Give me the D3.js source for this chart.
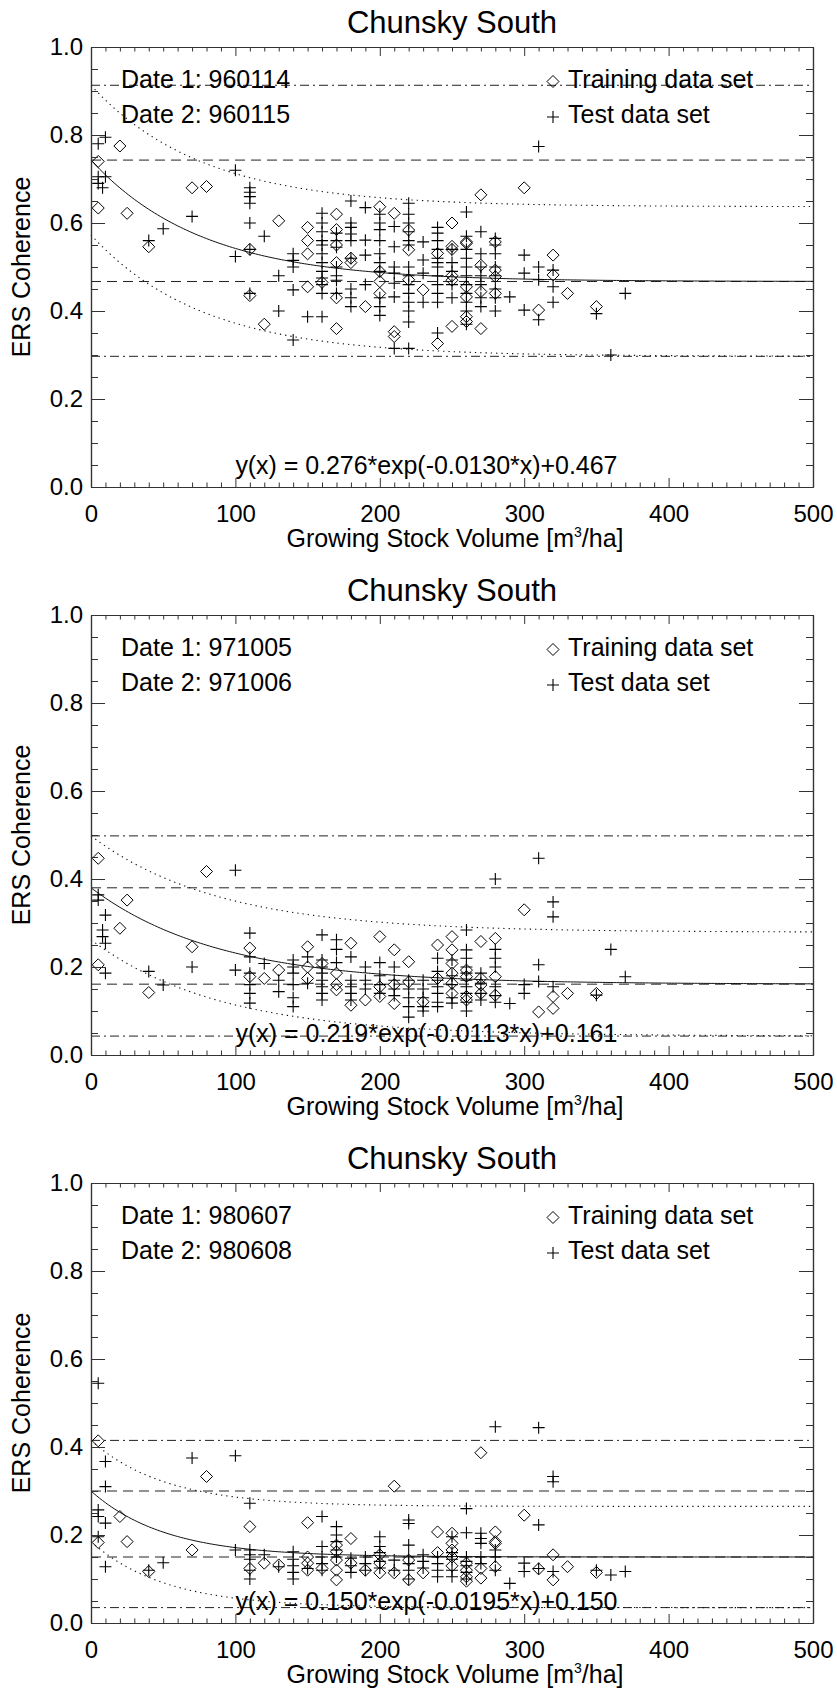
<!DOCTYPE html>
<html>
<head>
<meta charset="utf-8">
<script src="https://cdn.jsdelivr.net/npm/d3@7"></script>
<style>
  html, body { margin: 0; padding: 0; background: #fff; }
  svg { display: block; }
  text { font-family: "Liberation Sans", Arial, Helvetica, sans-serif; fill: #000; }
</style>
</head>
<body>
<svg id="chart" width="837" height="1688"></svg>
<script>
// ---- Chunsky South: ERS coherence vs growing stock volume, three date pairs ----

const siteName = "Chunsky South";
const date1 = ["960114", "971005", "980607"];
const date2 = ["960115", "971006", "980608"];

// Fitted model y(x) = a*exp(-b*x)+c and band half-width per date pair
const fitA = [0.276, 0.219, 0.150];
const fitB = [0.0130, 0.0113, 0.0195];
const fitC = [0.467, 0.161, 0.150];
const bandWidth = [0.170, 0.118, 0.115];

const xTicks = [0, 100, 200, 300, 400, 500];
const yTicks = [0.0, 0.2, 0.4, 0.6, 0.8, 1.0];

// Pair 1 (960114 / 960115)
const train1 = [[5,0.74],[20,0.775],[5,0.634],[25,0.622],[40,0.546],[70,0.68],[80,0.683],[110,0.54],[110,0.435],[130,0.605],[120,0.37],[150,0.59],[150,0.56],[150,0.53],[150,0.455],[160,0.465],[170,0.62],[170,0.585],[170,0.55],[170,0.51],[170,0.43],[170,0.36],[180,0.52],[180,0.51],[190,0.41],[200,0.637],[210,0.622],[220,0.584],[220,0.539],[200,0.49],[200,0.467],[200,0.44],[210,0.353],[210,0.342],[230,0.448],[220,0.471],[240,0.531],[240,0.326],[250,0.6],[250,0.547],[250,0.54],[250,0.48],[250,0.47],[250,0.365],[260,0.557],[260,0.554],[260,0.455],[260,0.432],[260,0.387],[260,0.376],[270,0.664],[270,0.504],[270,0.444],[270,0.36],[280,0.557],[280,0.493],[280,0.478],[280,0.44],[300,0.68],[310,0.402],[320,0.527],[320,0.482],[330,0.44],[350,0.41]];
const test1 = [[5,0.78],[10,0.795],[5,0.705],[5,0.69],[8,0.68],[10,0.705],[40,0.56],[50,0.587],[70,0.615],[100,0.72],[110,0.68],[110,0.67],[110,0.66],[110,0.645],[110,0.6],[120,0.57],[100,0.524],[110,0.54],[110,0.44],[130,0.48],[130,0.4],[140,0.53],[140,0.515],[140,0.5],[140,0.448],[140,0.334],[150,0.387],[160,0.387],
  [160,0.622],[160,0.6],[160,0.58],[160,0.56],[160,0.55],[160,0.53],[160,0.51],[160,0.49],[160,0.475],[160,0.46],[160,0.44],
  [170,0.577],[170,0.56],[170,0.545],[170,0.5],[170,0.48],[170,0.47],[170,0.44],
  [180,0.65],[180,0.6],[180,0.59],[180,0.575],[180,0.56],[180,0.52],[180,0.45],[180,0.43],[180,0.41],
  [190,0.635],[190,0.561],[190,0.527],[190,0.46],
  [200,0.62],[200,0.6],[200,0.585],[200,0.56],[200,0.53],[200,0.51],[200,0.49],[200,0.43],[200,0.41],[200,0.39],
  [210,0.592],[210,0.546],[210,0.5],[210,0.486],[210,0.463],[210,0.432],[210,0.315],
  [220,0.645],[220,0.62],[220,0.6],[220,0.58],[220,0.56],[220,0.55],[220,0.5],[220,0.48],[220,0.46],[220,0.44],[220,0.42],[220,0.4],[220,0.375],[220,0.315],
  [230,0.557],[230,0.516],[230,0.486],[230,0.42],
  [240,0.59],[240,0.577],[240,0.56],[240,0.54],[240,0.52],[240,0.51],[240,0.5],[240,0.48],[240,0.46],[240,0.44],[240,0.42],[240,0.35],
  [250,0.54],[250,0.51],[250,0.49],[250,0.46],[250,0.43],
  [260,0.625],[260,0.57],[260,0.54],[260,0.52],[260,0.5],[260,0.48],[260,0.46],[260,0.44],[260,0.42],[260,0.4],[260,0.37],
  [270,0.58],[270,0.53],[270,0.5],[270,0.48],[270,0.46],[270,0.43],[270,0.41],
  [280,0.565],[280,0.55],[280,0.53],[280,0.5],[280,0.48],[280,0.45],[280,0.43],[280,0.4],
  [290,0.432],[300,0.527],[300,0.486],[300,0.402],[310,0.5],[310,0.471],[310,0.38],[320,0.493],[320,0.455],[320,0.42],[310,0.774],[350,0.394],[370,0.44],[360,0.3]];

// Pair 2 (971005 / 971006)
const train2 = [[5,0.447],[80,0.417],[25,0.352],[20,0.288],[70,0.246],[5,0.205],[40,0.142],[110,0.243],[110,0.178],[120,0.174],[130,0.193],[150,0.246],[150,0.2],[150,0.174],[160,0.208],[170,0.186],[170,0.16],[170,0.148],[180,0.254],[180,0.113],[200,0.269],[210,0.239],[190,0.125],[200,0.155],[200,0.133],[210,0.16],[210,0.117],[220,0.212],[220,0.166],[230,0.121],[240,0.25],[240,0.174],[250,0.269],[250,0.239],[250,0.208],[250,0.186],[250,0.163],[250,0.14],[260,0.193],[260,0.178],[260,0.133],[260,0.125],[270,0.258],[270,0.174],[270,0.159],[270,0.14],[280,0.265],[280,0.178],[280,0.136],[300,0.33],[310,0.098],[320,0.133],[320,0.106],[330,0.14],[350,0.14]];
const test2 = [[5,0.364],[5,0.352],[10,0.318],[8,0.284],[8,0.269],[10,0.254],[10,0.186],[100,0.42],[40,0.19],[50,0.159],[70,0.2],[100,0.193],[110,0.277],[110,0.223],[110,0.186],[110,0.16],[110,0.14],[110,0.118],[120,0.208],[130,0.17],[130,0.144],
  [140,0.216],[140,0.2],[140,0.186],[140,0.16],[140,0.13],[140,0.11],
  [150,0.223],[150,0.163],
  [160,0.273],[160,0.216],[160,0.2],[160,0.186],[160,0.17],[160,0.155],[160,0.14],[160,0.125],
  [170,0.262],[170,0.24],[170,0.21],
  [180,0.223],[180,0.17],[180,0.155],[180,0.14],[180,0.125],
  [310,0.447],[280,0.4],[320,0.348],[320,0.314],[360,0.24],[370,0.178],
  [260,0.284],[260,0.239],[260,0.22],[260,0.2],[260,0.186],[260,0.17],[260,0.155],[260,0.14],[260,0.12],[260,0.1],
  [240,0.22],[240,0.19],[240,0.17],[240,0.155],[240,0.14],[240,0.12],[240,0.11],
  [250,0.216],[250,0.18],[250,0.16],[250,0.13],[250,0.118],
  [280,0.24],[280,0.22],[280,0.2],[280,0.155],[280,0.135],[280,0.12],
  [270,0.186],[270,0.163],[270,0.14],[270,0.125],
  [290,0.117],[300,0.16],[300,0.14],[310,0.205],[310,0.167],[320,0.155],[350,0.136],
  [230,0.17],[230,0.15],[230,0.13],[230,0.11],[230,0.1],
  [220,0.17],[220,0.15],[220,0.13],[220,0.11],[220,0.086],
  [210,0.2],[210,0.17],[210,0.15],[210,0.135],
  [200,0.21],[200,0.18],[200,0.16],[200,0.14],
  [190,0.2],[190,0.17],[190,0.15]];

// Pair 3 (980607 / 980608)
const train3 = [[5,0.414],[80,0.333],[20,0.242],[25,0.185],[5,0.183],[70,0.166],[40,0.117],[110,0.219],[110,0.124],[120,0.136],[130,0.132],[150,0.228],[150,0.15],[150,0.136],[150,0.12],[160,0.124],[170,0.177],[170,0.162],[170,0.143],[170,0.12],[170,0.098],[180,0.192],[180,0.136],[210,0.311],[270,0.387],[300,0.245],[240,0.207],[250,0.204],[280,0.207],[280,0.185],[320,0.155],[330,0.128],[350,0.115],[310,0.123],[320,0.098],[190,0.12],[200,0.155],[200,0.136],[200,0.114],[210,0.114],[220,0.143],[220,0.098],[230,0.114],[240,0.16],[250,0.181],[250,0.166],[250,0.15],[250,0.13],[260,0.136],[260,0.12],[260,0.105],[260,0.095],[270,0.124],[270,0.102],[280,0.181],[280,0.128]];
const test3 = [[5,0.545],[10,0.367],[10,0.31],[5,0.257],[5,0.242],[10,0.227],[5,0.196],[10,0.128],[70,0.375],[100,0.38],[40,0.12],[50,0.137],[100,0.166],[110,0.272],[110,0.166],[110,0.155],[110,0.145],[110,0.12],[110,0.1],[120,0.155],[130,0.128],
  [140,0.162],[140,0.145],[140,0.13],[140,0.115],[140,0.1],
  [150,0.124],[160,0.242],[160,0.174],[160,0.15],[160,0.135],[160,0.12],
  [170,0.219],[170,0.2],[170,0.185],[170,0.166],[170,0.15],
  [180,0.147],[180,0.13],[180,0.115],
  [280,0.446],[310,0.444],[320,0.333],[320,0.321],[260,0.26],[220,0.234],[220,0.226],[200,0.196],[200,0.174],[220,0.177],[260,0.205],[270,0.204],[270,0.192],[270,0.181],[310,0.223],
  [190,0.15],[190,0.135],[190,0.12],
  [200,0.16],[200,0.14],[200,0.125],
  [210,0.143],[210,0.12],
  [220,0.15],[220,0.135],[220,0.12],[220,0.1],
  [230,0.155],[230,0.14],[230,0.125],
  [240,0.15],[240,0.135],[240,0.12],[240,0.105],
  [250,0.196],[250,0.16],[250,0.145],[250,0.12],[250,0.105],
  [260,0.15],[260,0.14],[260,0.13],[260,0.115],[260,0.1],
  [270,0.15],[270,0.135],
  [280,0.166],[280,0.15],[280,0.12],
  [290,0.09],[300,0.136],[300,0.117],[310,0.124],[320,0.117],[350,0.12],[360,0.109],[370,0.117]];

const trainSets = [train1, train2, train3];
const testSets = [test1, test2, test3];

// ---- layout ----
const svg = d3.select("#chart");
svg.append("rect").attr("width", 837).attr("height", 1688).attr("fill", "#fff");

const plotLeft = 91, plotRight = 813, plotH = 440;
const panelTop0 = 47, panelStep = 568;
const ink = "#000";
const diamond = "M0,-6L6,0L0,6L-6,0Z";
const plus = "M-6,0H6M0,-6V6";

function range(a, b, step) {
  const out = [];
  for (let v = a; v <= b + 1e-9; v += step) out.push(+v.toFixed(4));
  return out;
}
const xMinor = range(0, 500, 10).filter(v => !xTicks.includes(v));
const yMinor = range(0, 1, 0.05).filter(v => !yTicks.some(t => Math.abs(t - v) < 1e-6));

for (let i = 0; i < 3; i++) {
  const top = panelTop0 + i * panelStep;
  const bottom = top + plotH;
  const x = d3.scaleLinear().domain([0, 500]).range([plotLeft, plotRight]);
  const y = d3.scaleLinear().domain([0, 1]).range([bottom, top]);
  const g = svg.append("g");

  const a = fitA[i], b = fitB[i], c = fitC[i], d = bandWidth[i];
  const fit = v => a * Math.exp(-b * v) + c;
  const xs = d3.range(0, 500.01, 2);

  // horizontal reference levels
  const levels = [
    { v: c + a + d, dash: "9,4,2,4" },
    { v: c + a, dash: "10,6" },
    { v: c, dash: "10,6" },
    { v: c - d, dash: "9,4,2,4" }
  ];
  g.selectAll(".lvl").data(levels).join("line")
    .attr("x1", x(0)).attr("x2", x(500))
    .attr("y1", l => y(l.v)).attr("y2", l => y(l.v))
    .attr("stroke", "#222").attr("stroke-width", 1)
    .attr("stroke-dasharray", l => l.dash);

  const line = d3.line().x(v => x(v[0])).y(v => y(v[1]));
  // confidence band curves
  [d, -d].forEach(off => {
    g.append("path")
      .attr("d", line(xs.map(v => [v, fit(v) + off])))
      .attr("fill", "none").attr("stroke", "#111").attr("stroke-width", 1.1)
      .attr("stroke-dasharray", "1.3,4");
  });
  // fitted curve
  g.append("path")
    .attr("d", line(xs.map(v => [v, fit(v)])))
    .attr("fill", "none").attr("stroke", "#111").attr("stroke-width", 1);

  // data points
  g.selectAll(".tr").data(trainSets[i]).join("path")
    .attr("d", diamond)
    .attr("transform", p => `translate(${x(p[0])},${y(p[1])})`)
    .attr("fill", "none").attr("stroke", ink).attr("stroke-width", 1);
  g.selectAll(".te").data(testSets[i]).join("path")
    .attr("d", plus)
    .attr("transform", p => `translate(${x(p[0])},${y(p[1])})`)
    .attr("fill", "none").attr("stroke", ink).attr("stroke-width", 1.1);

  // axes: ticks inward on all four sides
  const styleAxis = sel => {
    sel.selectAll("path.domain").attr("stroke", "#333").attr("stroke-width", 1.2);
    sel.selectAll(".tick line").attr("stroke", "#333").attr("stroke-width", 1);
    sel.selectAll(".tick text").attr("font-size", 24)
      .attr("font-family", "Liberation Sans, Arial, sans-serif").attr("fill", "#000");
  };
  g.append("g").attr("transform", `translate(0,${bottom})`)
    .call(d3.axisBottom(x).tickValues(xTicks).tickSize(-9).tickSizeOuter(0).tickPadding(18).tickFormat(d3.format("d")))
    .call(styleAxis);
  g.append("g").attr("transform", `translate(0,${bottom})`)
    .call(d3.axisBottom(x).tickValues(xMinor).tickSize(-4.5).tickSizeOuter(0).tickFormat(""))
    .call(styleAxis);
  g.append("g").attr("transform", `translate(0,${top})`)
    .call(d3.axisTop(x).tickValues(xTicks).tickSize(-9).tickSizeOuter(0).tickFormat(""))
    .call(styleAxis);
  g.append("g").attr("transform", `translate(0,${top})`)
    .call(d3.axisTop(x).tickValues(xMinor).tickSize(-4.5).tickSizeOuter(0).tickFormat(""))
    .call(styleAxis);
  g.append("g").attr("transform", `translate(${plotLeft},0)`)
    .call(d3.axisLeft(y).tickValues(yTicks).tickSize(-14).tickSizeOuter(0).tickPadding(8).tickFormat(d3.format(".1f")))
    .call(styleAxis);
  g.append("g").attr("transform", `translate(${plotLeft},0)`)
    .call(d3.axisLeft(y).tickValues(yMinor).tickSize(-7).tickSizeOuter(0).tickFormat(""))
    .call(styleAxis);
  g.append("g").attr("transform", `translate(${plotRight},0)`)
    .call(d3.axisRight(y).tickValues(yTicks).tickSize(-14).tickSizeOuter(0).tickFormat(""))
    .call(styleAxis);
  g.append("g").attr("transform", `translate(${plotRight},0)`)
    .call(d3.axisRight(y).tickValues(yMinor).tickSize(-7).tickSizeOuter(0).tickFormat(""))
    .call(styleAxis);

  // title and axis titles
  g.append("text").attr("x", (plotLeft + plotRight) / 2).attr("y", top - 14)
    .attr("text-anchor", "middle").attr("font-size", 31).text(siteName);
  const xt = g.append("text").attr("x", (plotLeft + plotRight) / 2 + 3).attr("y", bottom + 60)
    .attr("text-anchor", "middle").attr("font-size", 25);
  xt.append("tspan").text("Growing Stock Volume [m");
  xt.append("tspan").attr("font-size", 14).attr("dy", -10).text("3");
  xt.append("tspan").attr("dy", 10).text("/ha]");
  g.append("text")
    .attr("transform", `translate(30,${(top + bottom) / 2}) rotate(-90)`)
    .attr("text-anchor", "middle").attr("font-size", 25).text("ERS Coherence");

  // date annotations
  g.append("text").attr("x", 121).attr("y", top + 41).attr("font-size", 25).text("Date 1: " + date1[i]);
  g.append("text").attr("x", 121).attr("y", top + 76).attr("font-size", 25).text("Date 2: " + date2[i]);

  // legend
  g.append("path").attr("d", diamond).attr("transform", `translate(553,${top + 34.5})`)
    .attr("fill", "none").attr("stroke", ink).attr("stroke-width", 1);
  g.append("text").attr("x", 568).attr("y", top + 41).attr("font-size", 25).text("Training data set");
  g.append("path").attr("d", plus).attr("transform", `translate(553,${top + 70})`)
    .attr("fill", "none").attr("stroke", ink).attr("stroke-width", 1.1);
  g.append("text").attr("x", 568).attr("y", top + 76).attr("font-size", 25).text("Test data set");

  // fitted equation
  g.append("text").attr("x", x(100)).attr("y", top + 427).attr("font-size", 25)
    .attr("textLength", 382).attr("lengthAdjust", "spacing")
    .text(`y(x) = ${a.toFixed(3)}*exp(-${b.toFixed(4)}*x)+${c.toFixed(3)}`);
}
</script>
</body>
</html>
